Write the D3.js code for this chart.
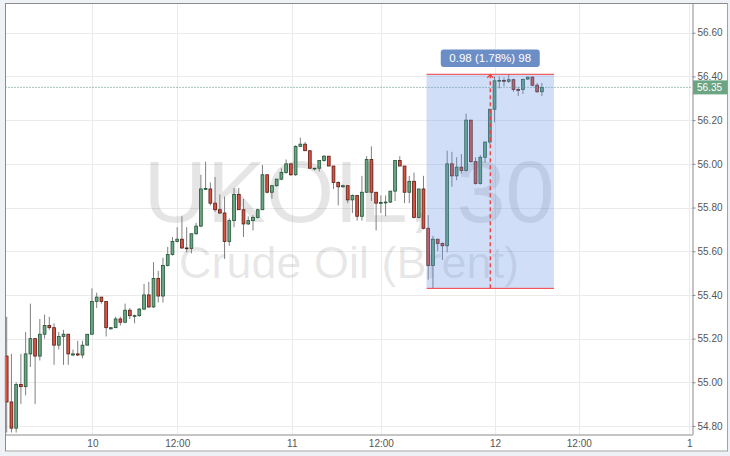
<!DOCTYPE html>
<html>
<head>
<meta charset="utf-8">
<script src="https://cdn.jsdelivr.net/npm/d3@7/dist/d3.min.js"></script>
<style>
  html, body { margin: 0; padding: 0; background: #eef2f6; }
  svg { display: block; font-family: "Liberation Sans", Arial, sans-serif; }
</style>
</head>
<body>
<script>
// UKOIL 30 min candles
var opens = [55.12,54.91,54.79,54.99,54.98,55.13,55.20,55.12,55.22,55.26,
  55.25,55.17,55.21,55.22,55.125,55.13,55.125,55.17,55.22,55.37,
  55.39,55.37,55.245,55.25,55.29,55.275,55.33,55.305,55.305,55.335,
  55.40,55.345,55.475,55.395,55.535,55.585,55.645,55.655,55.615,55.613,
  55.68,55.715,55.885,55.885,55.82,55.79,55.775,55.645,55.74,55.86,
  55.79,55.725,55.74,55.755,55.79,55.95,55.87,55.90,55.93,55.96,
  56.00,55.95,56.08,56.09,56.06,55.98,55.98,56.015,56.035,55.99,
  55.915,55.895,55.90,55.835,55.855,55.76,55.87,56.02,55.87,55.82,
  55.823,55.825,55.875,56.015,55.99,55.87,55.92,55.755,55.885,55.705,
  55.535,55.655,55.635,55.625,56.00,55.945,55.985,55.97,56.20,56.01,
  55.91,56.03,56.10,56.25,56.38,56.382,56.378,56.385,56.34,56.34,
  56.388,56.397,56.36,56.33];
var highs = [55.30,55.13,55.00,55.13,55.23,55.36,55.20,55.29,55.31,55.30,
  55.27,55.23,55.24,55.22,55.15,55.19,55.19,55.22,55.43,55.41,
  55.39,55.37,55.25,55.30,55.30,55.36,55.34,55.31,55.34,55.45,
  55.46,55.55,55.51,55.57,55.62,55.665,55.71,55.76,55.71,55.68,
  55.73,55.95,56.01,55.915,55.94,55.86,55.85,55.75,55.89,55.89,
  55.84,55.76,55.765,55.795,55.995,55.95,55.90,55.93,55.98,56.02,
  56.00,56.085,56.12,56.10,56.06,55.98,56.015,56.04,56.035,55.99,
  55.92,55.905,55.90,55.86,55.855,55.945,56.035,56.08,55.87,55.855,
  55.855,55.875,56.015,56.035,55.99,55.945,55.96,55.885,55.945,55.765,
  55.67,55.655,55.64,56.06,56.055,56.03,56.045,56.23,56.20,56.03,
  56.04,56.10,56.25,56.40,56.40,56.395,56.41,56.39,56.353,56.39,
  56.398,56.40,56.37,56.37];
var lows = [54.77,54.77,54.77,54.90,54.94,55.07,54.90,55.10,55.20,55.24,
  55.08,55.15,55.08,55.08,55.12,55.12,55.11,55.17,55.22,55.34,
  55.36,55.21,55.24,55.25,55.26,55.27,55.29,55.27,55.30,55.33,
  55.34,55.34,55.365,55.365,55.53,55.58,55.64,55.61,55.595,55.59,
  55.675,55.71,55.88,55.81,55.78,55.77,55.565,55.625,55.71,55.79,
  55.665,55.72,55.695,55.75,55.79,55.865,55.84,55.895,55.925,55.955,
  55.945,55.945,56.08,56.06,55.98,55.97,55.965,56.01,55.99,55.885,
  55.81,55.89,55.82,55.775,55.74,55.74,55.87,55.83,55.695,55.775,
  55.76,55.82,55.83,55.99,55.82,55.82,55.75,55.75,55.70,55.47,
  55.43,55.60,55.56,55.595,55.895,55.925,55.955,55.965,56.005,55.905,
  55.905,56.005,56.09,56.19,56.345,56.355,56.37,56.33,56.31,56.32,
  56.385,56.355,56.325,56.31];
var closes = [54.91,54.79,54.99,54.98,55.13,55.20,55.12,55.22,55.26,55.25,
  55.17,55.21,55.22,55.13,55.13,55.125,55.17,55.22,55.37,55.39,
  55.37,55.25,55.25,55.29,55.275,55.33,55.305,55.305,55.335,55.40,
  55.345,55.475,55.395,55.535,55.585,55.645,55.655,55.615,55.613,55.68,
  55.715,55.885,55.887,55.82,55.79,55.775,55.645,55.74,55.86,55.79,
  55.725,55.74,55.755,55.79,55.95,55.87,55.90,55.93,55.96,56.00,
  55.95,56.08,56.09,56.06,55.98,55.98,56.015,56.035,55.99,55.915,
  55.895,55.90,55.835,55.855,55.76,55.87,56.02,55.87,55.82,55.823,
  55.825,55.875,56.015,55.99,55.87,55.92,55.755,55.885,55.705,55.535,
  55.655,55.635,55.625,56.00,55.945,55.985,55.97,56.20,56.01,55.91,
  56.03,56.10,56.25,56.38,56.382,56.378,56.385,56.34,56.338,56.386,
  56.397,56.36,56.33,56.35];

var timeTickIdx = [18.1, 36, 60.2, 79, 103.1, 120.8, 144.1];
var timeTickLabels = ['10', '12:00', '11', '12:00', '12', '12:00', '1'];
var priceTicks = [56.6, 56.4, 56.2, 56.0, 55.8, 55.6, 55.4, 55.2, 55.0, 54.8];
var lastPrice = 56.35;

// measuring tool box
var rangeFrom = 88.65, rangeTo = 115.55;
var rangeLow = 55.43, rangeHigh = 56.41;
var rangeText = '0.98 (1.78%) 98';

var symbolText = 'UKOIL, 30';
var descText = 'Crude Oil (Brent)';

var W = 730, H = 456;
var pL = 5.5, pR = 692.5, pT = 3.5, pB = 434.5;

var svg = d3.select('body').append('svg').attr('width', W).attr('height', H);

// frame
svg.append('rect').attr('x', 5.5).attr('y', 3.5).attr('width', 722).attr('height', 447.5)
  .style('fill', '#fff').style('stroke', '#a3a3a3');

var x = d3.scaleLinear().domain([-0.25, 144.8]).range([pL, pR]);
var y = d3.scaleLinear().domain([54.761, 56.734]).range([pB, pT]);

var plot = svg.append('g');

// grid
plot.selectAll('.hgrid').data(priceTicks).enter().append('line')
  .attr('x1', pL).attr('x2', pR)
  .attr('y1', function(d){ return Math.round(y(d)) + 0.5; })
  .attr('y2', function(d){ return Math.round(y(d)) + 0.5; })
  .style('stroke', '#ebebeb');
plot.selectAll('.vgrid').data(timeTickIdx).enter().append('line')
  .attr('y1', pT).attr('y2', pB)
  .attr('x1', function(d){ return Math.round(x(d)) + 0.5; })
  .attr('x2', function(d){ return Math.round(x(d)) + 0.5; })
  .style('stroke', '#ebebeb');

// watermark
var midX = (pL + pR) / 2;
plot.append('text').attr('x', midX).attr('y', 222).attr('text-anchor', 'middle')
  .style('font-size', '88px').style('fill', 'rgba(0,0,0,0.1)').text(symbolText);
plot.append('text').attr('x', midX).attr('y', 278).attr('text-anchor', 'middle')
  .style('font-size', '45px').style('fill', 'rgba(0,0,0,0.1)').text(descText);

// candles
var idx = d3.range(closes.length);
var candles = plot.selectAll('.candle').data(idx).enter().append('g');
candles.append('line')
  .attr('x1', function(i){ return x(i); }).attr('x2', function(i){ return x(i); })
  .attr('y1', function(i){ return y(highs[i]); })
  .attr('y2', function(i){ return y(lows[i]); })
  .style('stroke', '#808080').style('stroke-width', 1);
candles.append('rect')
  .attr('x', function(i){ return x(i) - 1.4; })
  .attr('width', 2.8)
  .attr('y', function(i){ return y(Math.max(opens[i], closes[i])); })
  .attr('height', function(i){ return Math.max(0.8, Math.abs(y(opens[i]) - y(closes[i]))); })
  .style('fill', function(i){ return closes[i] >= opens[i] ? '#6ba583' : '#d75442'; })
  .style('stroke', function(i){ return closes[i] >= opens[i] ? '#225437' : '#5b1a13'; })
  .style('stroke-width', 0.8);

// last price line
plot.append('line').attr('x1', pL).attr('x2', pR)
  .attr('y1', y(lastPrice)).attr('y2', y(lastPrice))
  .style('stroke', '#4f8c6c').style('stroke-dasharray', '1,2');

// measuring box
var bx0 = x(rangeFrom), bx1 = x(rangeTo), by0 = y(rangeHigh), by1 = y(rangeLow);
var bmid = (bx0 + bx1) / 2;
plot.append('rect').attr('x', bx0).attr('y', by0).attr('width', bx1 - bx0).attr('height', by1 - by0)
  .style('fill', 'rgba(100,150,230,0.3)');
plot.selectAll('.edge').data([by0, by1]).enter().append('line')
  .attr('x1', bx0).attr('x2', bx1).attr('y1', function(d){ return d; }).attr('y2', function(d){ return d; })
  .style('stroke', '#f23b3b').style('stroke-width', 1);
plot.append('line').attr('x1', bmid).attr('x2', bmid).attr('y1', by0).attr('y2', by1)
  .style('stroke', '#f23b3b').style('stroke-width', 1.3).style('stroke-dasharray', '4,3');
plot.append('path')
  .attr('d', 'M' + (bmid - 3) + ',' + (by0 + 3.5) + 'L' + bmid + ',' + (by0 + 0.5) + 'L' + (bmid + 3) + ',' + (by0 + 3.5))
  .style('fill', 'none').style('stroke', '#f23b3b').style('stroke-width', 1.2);

var lab = plot.append('g');
lab.append('rect').attr('x', bmid - 49.5).attr('y', 49.5).attr('width', 99).attr('height', 17.5).attr('rx', 3)
  .style('fill', '#6b8ec7');
lab.append('text').attr('x', bmid).attr('y', 62).attr('text-anchor', 'middle')
  .style('font-size', '11.5px').style('fill', '#fff').text(rangeText);

// axes
var yAxis = d3.axisRight(y).tickValues(priceTicks).tickFormat(d3.format('.2f')).tickSize(3).tickPadding(2);
var gy = svg.append('g').attr('transform', 'translate(' + pR + ',0)').call(yAxis);
gy.select('.domain').attr('d', 'M0.5,' + pT + 'V' + pB).style('stroke', '#8a8a8a');
gy.selectAll('.tick line').style('stroke', '#8a8a8a');
gy.selectAll('text').style('font-size', '10px').style('fill', '#555')
  .style('font-family', '"Liberation Sans", Arial, sans-serif');

var xAxis = d3.axisBottom(x).tickValues(timeTickIdx)
  .tickFormat(function(d, i){ return timeTickLabels[i]; }).tickSize(0).tickPadding(5);
var gx = svg.append('g').attr('transform', 'translate(0,' + pB + ')').call(xAxis);
gx.select('.domain').attr('d', 'M' + pL + ',0.5H' + (pR + 0.5)).style('stroke', '#8a8a8a');
gx.selectAll('text').style('font-size', '10px').style('fill', '#555')
  .style('font-family', '"Liberation Sans", Arial, sans-serif');

// last price tag
var lp = svg.append('g');
lp.append('rect').attr('x', pR + 0.5).attr('y', y(lastPrice) - 7).attr('width', 34.5).attr('height', 14)
  .style('fill', '#6ba583');
lp.append('text').attr('x', pR + 4.5).attr('y', y(lastPrice) + 3.6)
  .style('font-size', '10px').style('fill', '#fff').text(d3.format('.2f')(lastPrice));

// top/left frame edges darker
svg.append('path').attr('d', 'M5.5,451V3.5H727.5').style('fill', 'none').style('stroke', '#8c8c8c');
</script>
</body>
</html>
